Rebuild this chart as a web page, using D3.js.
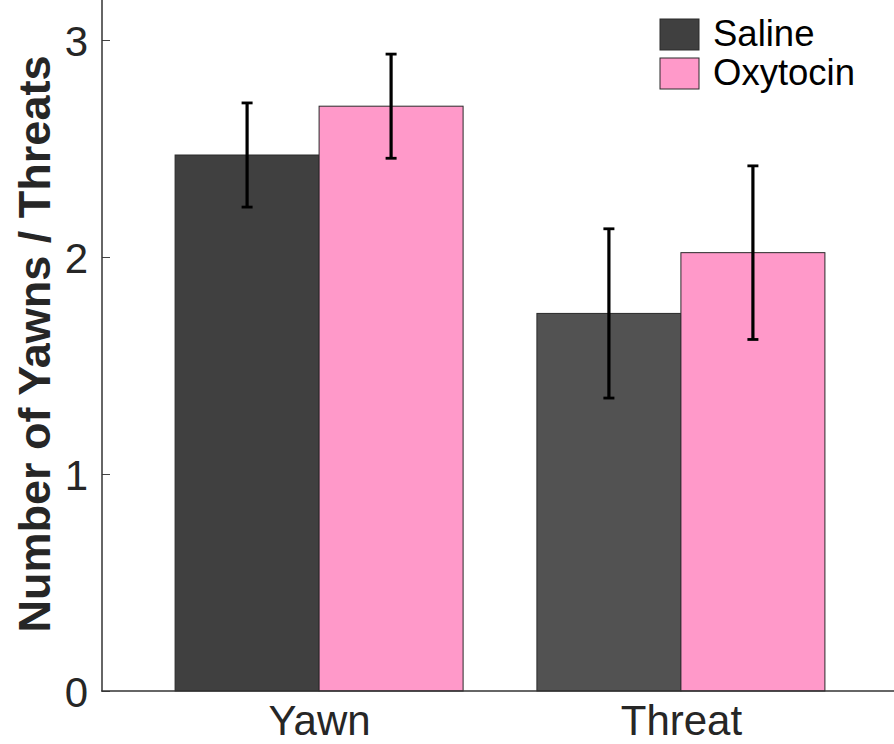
<!DOCTYPE html>
<html><head><meta charset="utf-8">
<script src="https://cdn.jsdelivr.net/npm/d3@7"></script>
<style>body{margin:0;background:#fff}svg{display:block}text{font-family:"Liberation Sans",Arial,Helvetica,sans-serif}</style>
</head><body>
<svg id="c" width="894" height="744"></svg>
<script>
const categories = ["Yawn", "Threat"];
const seriesNames = ["Saline", "Oxytocin"];
const salineValues = [2.47, 1.74];
const salineErrors = [0.24, 0.39];
const oxytocinValues = [2.695, 2.02];
const oxytocinErrors = [0.24, 0.40];
const yTicks = [0, 1, 2, 3];

const svg = d3.select("#c");
const x = d3.scaleLinear().domain([0.4, 2.6]).range([102, 898]);
const y = d3.scaleLinear().domain([0, 691/217]).range([691, 0]);
const sub = d3.scaleBand().domain(seriesNames).range([-0.398, 0.398]).padding(0);

const barColors = {Saline: ["#404040", "#525252"], Oxytocin: ["#ff99c9", "#ff99c9"]};
const legendColors = {Saline: "#404040", Oxytocin: "#ff99c9"};

const data = [];
categories.forEach((c, i) => {
  data.push({cat: c, i, s: "Saline", v: salineValues[i], e: salineErrors[i]});
  data.push({cat: c, i, s: "Oxytocin", v: oxytocinValues[i], e: oxytocinErrors[i]});
});

// bars
svg.append("g").selectAll("rect").data(data).join("rect")
  .attr("x", d => x(d.i + 1 + sub(d.s)))
  .attr("y", d => y(d.v))
  .attr("width", d => x(d.i + 1 + sub(d.s) + sub.bandwidth()) - x(d.i + 1 + sub(d.s)))
  .attr("height", d => y(0) - y(d.v))
  .attr("fill", d => barColors[d.s][d.i])
  .attr("stroke", "#2a2a2a").attr("stroke-width", 1);

// error bars
const eb = svg.append("g").attr("stroke", "#000").attr("stroke-width", 3.2);
data.forEach(d => {
  const cx = x(d.i + 1 + sub(d.s) + sub.bandwidth() / 2);
  eb.append("line").attr("x1", cx).attr("x2", cx).attr("y1", y(d.v + d.e)).attr("y2", y(d.v - d.e));
  [d.v + d.e, d.v - d.e].forEach(t => {
    eb.append("line").attr("x1", cx - 5.5).attr("x2", cx + 5.5).attr("y1", y(t)).attr("y2", y(t)).attr("stroke-width", 2.8);
  });
});

// y axis
const yAxis = d3.axisLeft(y).tickValues(yTicks).tickSize(-8).tickPadding(14).tickFormat(d3.format("d"));
const ya = svg.append("g").attr("transform", "translate(102,0)").call(yAxis);
ya.select(".domain").remove();
ya.selectAll(".tick line").attr("stroke", "#444").attr("stroke-width", 1);
ya.selectAll(".tick text").attr("font-size", 42).attr("fill", "#262626").attr("dy", "0.36em");
svg.append("line").attr("x1", 102).attr("x2", 102).attr("y1", 0).attr("y2", 691.5).attr("stroke", "#333").attr("stroke-width", 1.5);

// x axis
const xa = svg.append("g").attr("transform", "translate(0,691)")
  .call(d3.axisBottom(x).tickValues(categories.map((c, i) => i + 1)).tickSize(0).tickPadding(14).tickFormat((d) => categories[d - 1]));
xa.select(".domain").remove();
xa.selectAll(".tick text").attr("font-size", 42).attr("fill", "#262626").attr("dy", "0.72em");
svg.append("line").attr("x1", 101.25).attr("x2", 894).attr("y1", 691).attr("y2", 691).attr("stroke", "#333").attr("stroke-width", 1.5);

// y label
svg.append("text").attr("transform", "translate(50,344) rotate(-90)")
  .attr("text-anchor", "middle").attr("font-size", 45).attr("font-weight", "bold").attr("fill", "#262626")
  .text("Number of Yawns / Threats");

// legend
const lg = svg.append("g");
seriesNames.forEach((s, i) => {
  const yy = 19 + i * 39;
  lg.append("rect").attr("x", 660).attr("y", yy).attr("width", 39).attr("height", 31)
    .attr("fill", legendColors[s]).attr("stroke", "#2a2a2a").attr("stroke-width", 1);
  lg.append("text").attr("x", 713).attr("y", yy + 27).attr("font-size", 36.5).attr("fill", "#000").text(s);
});
</script>
</body></html>
